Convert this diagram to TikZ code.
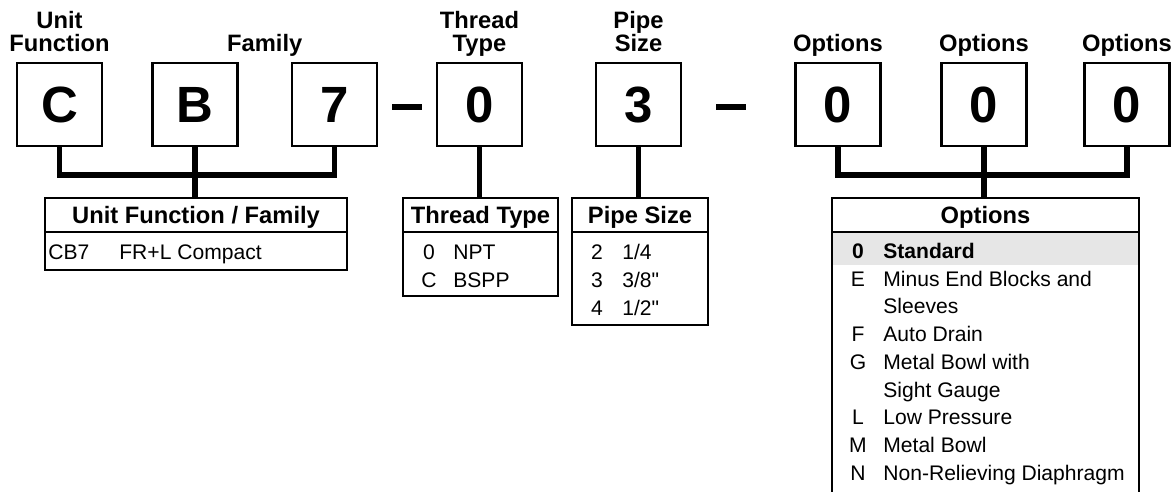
\documentclass[tikz,border=0pt]{standalone}
\usepackage{fontspec}
\setmainfont{Liberation Sans}
\usetikzlibrary{positioning,calc}
\definecolor{rowgray}{RGB}{230,230,230}
\tikzset{
  codebox/.style={draw,line width=1.5pt,outer sep=0pt,inner sep=0pt,minimum width=1.7cm,minimum height=1.66cm,text height=20.8pt,text depth=0pt,font=\fontsize{29}{29}\selectfont\bfseries},
  fieldlabel/.style={align=center,inner sep=0pt,text depth=0pt,anchor=south,font=\fontsize{13.5}{13}\selectfont\bfseries},
  tablehead/.style={draw,line width=1.5pt,outer sep=0pt,inner sep=0pt,minimum height=0.68cm,text height=9.7pt,text depth=0pt,font=\fontsize{13.5}{14}\selectfont\bfseries},
  tablebody/.style={draw,line width=1.5pt,outer sep=0pt,inner sep=0pt},
  sepbar/.style={fill=black,inner sep=0pt,minimum width=0.6cm,minimum height=0.12cm},
  rowcode/.style={inner sep=0pt,anchor=base,font=\fontsize{12}{12}\selectfont},
  rowtext/.style={inner sep=0pt,anchor=base west,font=\fontsize{12}{12}\selectfont},
  link/.style={line width=3pt}
}

\begin{document}
\begin{tikzpicture}[x=0.02cm,y=-0.02cm]
\useasboundingbox (0,0) rectangle (1173,492);
\clip (0,0) rectangle (1173,492);

% code boxes
\node[codebox] (boxC) at (59.5,104.5) {C};
\node[codebox] (boxB) at (195,104.5) {B};
\node[codebox] (box7) at (334.5,104.5) {7};
\node[sepbar] (sepA) at (407,107) {};
\node[codebox] (boxT) at (479.5,104.5) {0};
\node[codebox] (boxP) at (638.5,104.5) {3};
\node[sepbar] (sepB) at (730.5,107) {};
\node[codebox] (boxO1) at (838,104.5) {0};
\node[codebox] (boxO2) at (984,104.5) {0};
\node[codebox] (boxO3) at (1127,104.5) {0};

% labels above
\node[fieldlabel,above=0.23cm of boxC] (lblunit) {Unit\\Function};
\node[fieldlabel] (lblfam) at ($(boxB.north)!0.5!(box7.north)+(0,-11.5)$) {Family};
\node[fieldlabel,above=0.23cm of boxT] (lblthread) {Thread\\Type};
\node[fieldlabel,above=0.23cm of boxP] (lblpipe) {Pipe\\Size};
\node[fieldlabel,above=0.23cm of boxO1] (lblopt1) {Options};
\node[fieldlabel,above=0.23cm of boxO2] (lblopt2) {Options};
\node[fieldlabel,above=0.23cm of boxO3] (lblopt3) {Options};

% tables
\node[tablehead,minimum width=6.04cm] (famhead) at (196,215) {Unit Function / Family};
\node[tablebody,minimum width=6.04cm,minimum height=0.76cm,below=0pt of famhead] (fambody) {};
\node[tablehead,minimum width=3.1cm] (thrhead) at (480.5,215) {Thread Type};
\node[tablebody,minimum width=3.1cm,minimum height=1.28cm,below=0pt of thrhead] (thrbody) {};
\node[tablehead,minimum width=2.72cm] (pipehead) at (640,215) {Pipe Size};
\node[tablebody,minimum width=2.72cm,minimum height=1.86cm,below=0pt of pipehead] (pipebody) {};
\fill[rowgray] (832,232) rectangle (1139,265);
\node[tablehead,minimum width=6.14cm] (opthead) at (985.5,215) {Options};
\node[tablebody,minimum width=6.14cm,minimum height=5.76cm,below=0pt of opthead] (optbody) {};

% table rows
\node[rowtext] (famcode) at (48,259.5) {CB7};
\node[rowtext] (famtext) at (119,259.5) {FR+L Compact};
\foreach \code/\desc [count=\k from 0] in {0/NPT,C/BSPP}{
  \node[rowcode] (thrcode\k) at (429,259.5+28*\k) {\code};
  \node[rowtext] (thrtext\k) at (453,259.5+28*\k) {\desc};
}
\foreach \code/\desc [count=\k from 0] in {2/{1/4},3/{3/8\textquotedbl},4/{1/2\textquotedbl}}{
  \node[rowcode] (pipecode\k) at (597,259.5+28*\k) {\code};
  \node[rowtext] (pipetext\k) at (622,259.5+28*\k) {\desc};
}
\foreach \code/\desc [count=\k from 0] in {0/Standard,E/Minus End Blocks and,/Sleeves,F/Auto Drain,G/Metal Bowl with,/Sight Gauge,L/Low Pressure,M/Metal Bowl,N/Non-Relieving Diaphragm}{
  \node[rowcode] (optcode\k) at (858,258.5+27.75*\k) {\ifnum\k=0\bfseries\fi\code};
  \node[rowtext] (opttext\k) at (883,258.5+27.75*\k) {\ifnum\k=0\bfseries\fi\desc};
}

% connectors
\draw[link] (boxC.south) -- ++(0,29) -| (box7.south);
\draw[link] (boxB.south) -- (boxB.south |- famhead.north);
\draw[link] (boxT.south) -- (boxT.south |- thrhead.north);
\draw[link] (boxP.south) -- (boxP.south |- pipehead.north);
\draw[link] (boxO1.south) -- ++(0,29) -| (boxO3.south);
\draw[link] (boxO2.south) -- (boxO2.south |- opthead.north);
\end{tikzpicture}
\end{document}
